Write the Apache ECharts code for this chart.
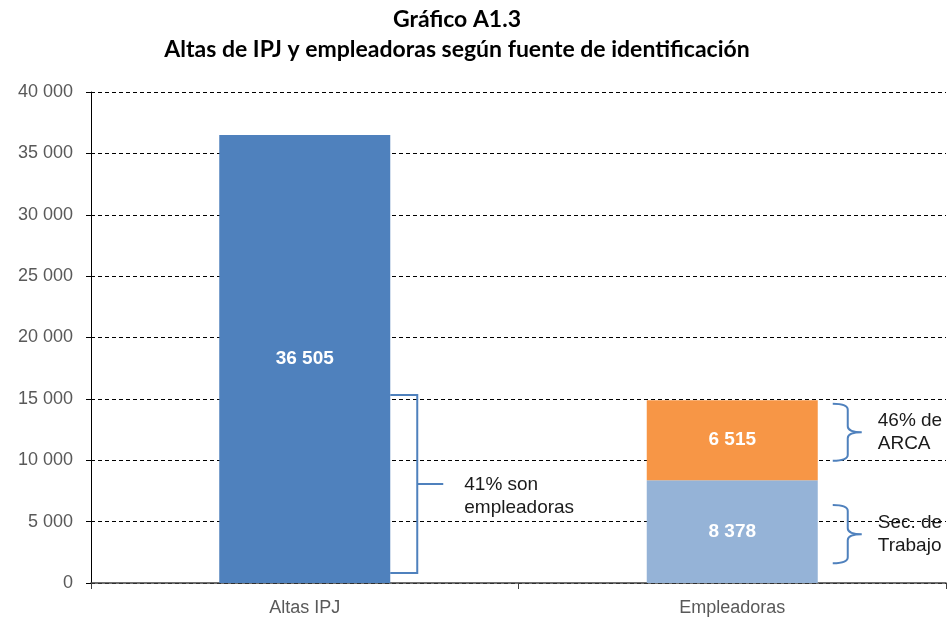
<!DOCTYPE html>
<html>
<head>
    <meta charset="utf-8">
    <title>Gráfico A1.3</title>
    <script type="text/javascript" src="https://cdn.jsdelivr.net/npm/echarts@6/dist/echarts.min.js"></script>
</head>
<body style="margin:0;background:#fff;">
    <div id="main" style="width:951px;height:620px;"></div>
    <script type="text/javascript">
    // datos
    var categories = ['Altas IPJ', 'Empleadoras'];
    var altasIPJ = [36505, '-'];
    var secTrabajo = ['-', 8378];
    var arca = ['-', 6515];
    var yTicks = [0, 5000, 10000, 15000, 20000, 25000, 30000, 35000, 40000];

    // llaves: [categoria, desde, hasta, tipo (0 = corchete, 1 = llave)]
    var bracketRanges = [[0, 815, 15316, 0], [1, 9950, 14600, 1], [1, 1600, 6350, 1]];
    var bracketTexts = ['41% son\nempleadoras', '46% de\nARCA', 'Sec. de\nTrabajo'];

    function fmt(v) {
        return String(v).replace(/\B(?=(\d{3})+(?!\d))/g, ' ');
    }

    var myChart = echarts.init(document.getElementById('main'));
    var lineColor = '#4F81BD';

    function renderBracket(params, api) {
        var cat = api.value(0);
        var p0 = api.coord([cat, api.value(1)]);
        var p1 = api.coord([cat, api.value(2)]);
        var band = api.size([1, 0])[0];
        var x0 = p0[0] + band * 0.2;
        var yb = p0[1], yt = p1[1], ym = (yb + yt) / 2;
        var children = [];
        var textX;
        if (api.value(3) === 0) {
            var xs = x0 + 27;
            children.push({
                type: 'polyline',
                shape: { points: [[x0, yt], [xs, yt], [xs, yb], [x0, yb]] },
                style: { stroke: lineColor, lineWidth: 2, fill: null }
            });
            children.push({
                type: 'line',
                shape: { x1: xs, y1: ym, x2: xs + 26, y2: ym },
                style: { stroke: lineColor, lineWidth: 2 }
            });
            textX = xs + 47;
        } else {
            var a = x0 + 15, s = a + 15, m = s + 14, r = 6;
            var path = 'M' + a + ' ' + yt +
                ' Q' + s + ' ' + yt + ' ' + s + ' ' + (yt + r) +
                ' L' + s + ' ' + (ym - r) +
                ' Q' + s + ' ' + ym + ' ' + m + ' ' + ym +
                ' Q' + s + ' ' + ym + ' ' + s + ' ' + (ym + r) +
                ' L' + s + ' ' + (yb - r) +
                ' Q' + s + ' ' + yb + ' ' + a + ' ' + yb;
            children.push({
                type: 'path',
                shape: { pathData: path },
                style: { stroke: lineColor, lineWidth: 2, fill: null }
            });
            textX = m + 16;
        }
        children.push({
            type: 'text',
            style: {
                x: textX, y: ym + (api.value(3) === 0 ? 12 : 0),
                text: bracketTexts[params.dataIndex],
                fill: '#1a1a1a',
                font: '19px "Liberation Sans", Arial, sans-serif',
                lineHeight: 23,
                verticalAlign: 'middle',
                align: 'left'
            }
        });
        return { type: 'group', children: children };
    }

    var barLabel = {
        show: true,
        position: 'inside',
        color: '#fff',
        fontWeight: 'bold',
        fontSize: 19,
        fontFamily: '"Liberation Sans", Arial, sans-serif',
        formatter: function (p) { return fmt(p.value); }
    };

    var option = {
        animation: false,
        backgroundColor: '#fff',
        title: {
            text: 'Gráfico A1.3\nAltas de IPJ y empleadoras según fuente de identificación',
            left: 452,
            top: 0,
            textAlign: 'center',
            textStyle: {
                fontFamily: 'Lato, "Open Sans", sans-serif',
                fontWeight: 'bold',
                fontSize: 23,
                lineHeight: 30,
                color: '#000'
            }
        },
        grid: {
            left: 91,
            right: 5,
            top: 92,
            bottom: 37
        },
        xAxis: {
            type: 'category',
            data: categories,
            axisLine: { lineStyle: { color: '#404040', width: 1.5 } },
            axisTick: { show: true, length: 6, lineStyle: { color: '#404040' } },
            axisLabel: {
                color: '#595959',
                fontSize: 18,
                margin: 16,
                fontFamily: '"Liberation Sans", Arial, sans-serif'
            }
        },
        yAxis: {
            type: 'value',
            min: 0,
            max: 40000,
            interval: 5000,
            axisLine: { show: true, lineStyle: { color: '#000', width: 1 } },
            axisTick: { show: true, length: 5, lineStyle: { color: '#000' } },
            axisLabel: {
                color: '#595959',
                fontSize: 18,
                margin: 18,
                fontFamily: '"Liberation Sans", Arial, sans-serif',
                formatter: function (v) { return fmt(v); }
            },
            splitLine: {
                show: true,
                lineStyle: { color: '#000', type: [4, 3], width: 1 }
            }
        },
        series: [{
            name: 'Altas IPJ',
            type: 'bar',
            stack: 'total',
            barWidth: '40%',
            itemStyle: { color: '#4F81BD' },
            label: barLabel,
            data: altasIPJ
        }, {
            name: 'Sec. de Trabajo',
            type: 'bar',
            stack: 'total',
            barWidth: '40%',
            itemStyle: { color: '#95B3D7' },
            label: barLabel,
            data: secTrabajo
        }, {
            name: 'ARCA',
            type: 'bar',
            stack: 'total',
            barWidth: '40%',
            itemStyle: { color: '#F79646' },
            label: barLabel,
            data: arca
        }, {
            type: 'custom',
            renderItem: renderBracket,
            silent: true,
            z: 5,
            data: bracketRanges
        }]
    };
    myChart.setOption(option);
    </script>
</body>
</html>
